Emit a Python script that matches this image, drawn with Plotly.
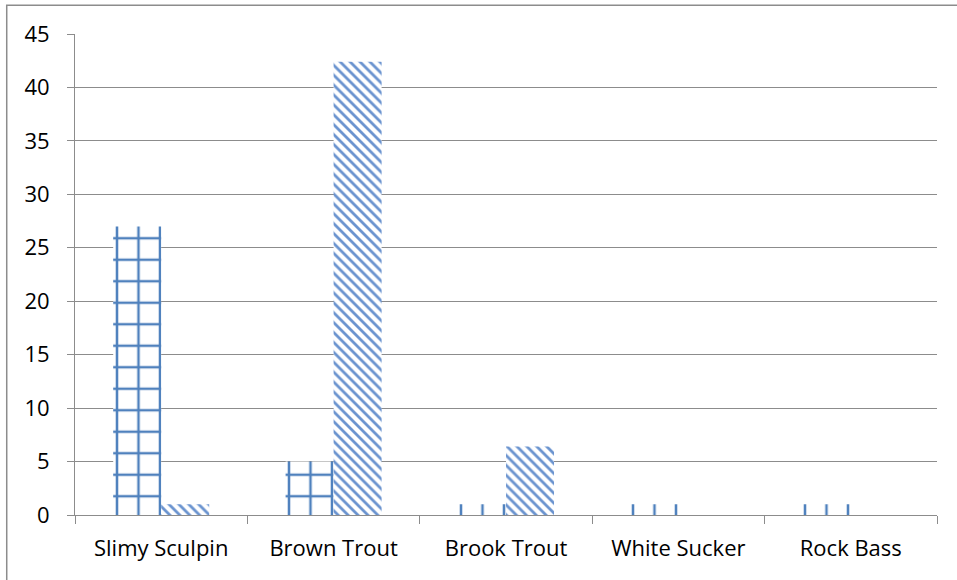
import plotly.graph_objects as go

# Fish counts per species for the two samples
species = ["Slimy Sculpin", "Brown Trout", "Brook Trout", "White Sucker", "Rock Bass"]
sample_a = [27, 5, 1, 1, 1]
sample_b = [1, 42.4, 6.4, 0, 0]
y_ticks = [0, 5, 10, 15, 20, 25, 30, 35, 40, 45]

BLUE = "#4F81BD"
GRAY = "#8C8C8C"

# Plot area geometry (px)
PLOT_W = 957 - 75 - 20
CAT_W = PLOT_W / len(species)
# The bar layer sits on its own axis pair, offset slightly so the grid
# fill tiles line up with the bar edges; its range keeps bars on the categories.
BAR_SHIFT = 9.75
bar_dom0 = BAR_SHIFT / PLOT_W
bar_range0 = -0.5 + BAR_SHIFT / CAT_W

fig = go.Figure()
# Empty carrier trace so the visible axes (ticks, labels, grid) are drawn
fig.add_trace(go.Scatter(
    x=species, y=sample_a, mode="none", hoverinfo="skip", showlegend=False,
    xaxis="x", yaxis="y",
))
fig.add_trace(go.Bar(
    x=species, y=sample_a, name="Sample A",
    xaxis="x2", yaxis="y2",
    marker=dict(
        color="white",
        line=dict(width=0),
        pattern=dict(shape="+", size=21.5, solidity=0.22,
                     fgcolor=BLUE, bgcolor="white", fillmode="replace"),
    ),
))
fig.add_trace(go.Bar(
    x=species, y=sample_b, name="Sample B",
    xaxis="x2", yaxis="y2",
    marker=dict(
        color="white",
        line=dict(width=0),
        pattern=dict(shape="\\", size=7, solidity=0.4,
                     fgcolor="#6A93CF", bgcolor="white", fillmode="replace"),
    ),
))

fig.update_layout(
    width=957, height=580,
    margin=dict(l=75, r=20, t=34, b=65, pad=0),
    paper_bgcolor="white", plot_bgcolor="rgba(0,0,0,0)",
    barmode="group", bargap=0.443, bargroupgap=0,
    showlegend=False,
    font=dict(family="Open Sans", size=22, color="#000000"),
    xaxis=dict(
        type="category",
        categoryarray=species, categoryorder="array",
        range=[-0.5, 4.5],
        tickson="boundaries",
        ticks="outside", ticklen=8, tickwidth=1, tickcolor=GRAY,
        showline=True, linecolor=GRAY, linewidth=1,
        showgrid=False, zeroline=False,
        ticklabelstandoff=14,
        tickfont=dict(size=22),
        anchor="y",
    ),
    yaxis=dict(
        range=[0, 45],
        tickvals=y_ticks,
        ticks="outside", ticklen=7, tickwidth=1, tickcolor=GRAY,
        showline=True, linecolor=GRAY, linewidth=1,
        showgrid=True, gridcolor=GRAY, gridwidth=1,
        zeroline=False,
        ticklabelstandoff=13,
        tickfont=dict(size=22),
        anchor="x",
    ),
    xaxis2=dict(
        type="category",
        categoryarray=species, categoryorder="array",
        domain=[bar_dom0, 1], range=[bar_range0, 4.5],
        visible=False, anchor="y2",
    ),
    yaxis2=dict(
        range=[0, 45], domain=[0, 1],
        visible=False, showgrid=False, anchor="x2",
    ),
    shapes=[dict(
        type="rect", xref="paper", yref="paper",
        x0=-0.0792, x1=1.05, y0=-0.16, y1=1.0596,
        line=dict(color=GRAY, width=1.5), fillcolor="rgba(0,0,0,0)",
        layer="below",
    )],
)

fig.write_html("out.html")
